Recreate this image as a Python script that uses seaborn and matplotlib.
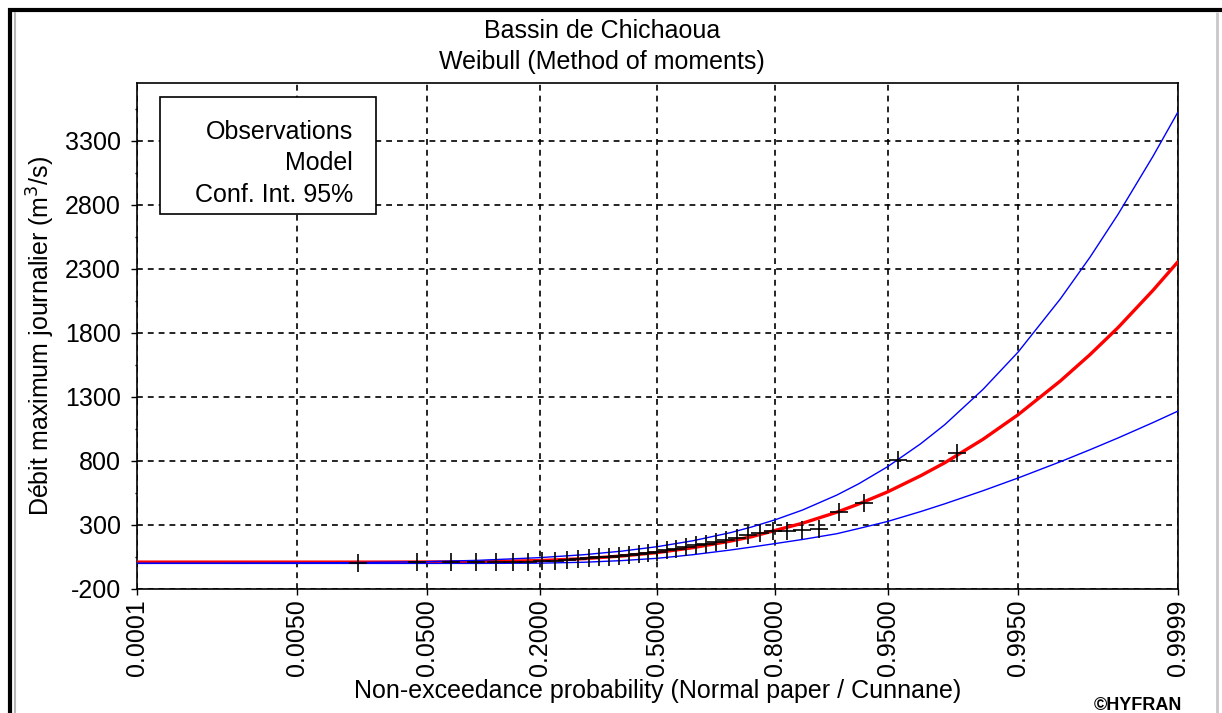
import numpy as np
import matplotlib
matplotlib.use("Agg")
import matplotlib.pyplot as plt
import seaborn as sns
from statistics import NormalDist
from matplotlib.lines import Line2D
from matplotlib.patches import Rectangle

# Fitted Weibull quantiles (model) and 95% confidence bounds, m3/s
prob_grid = [0.0001, 0.001, 0.005, 0.01, 0.02, 0.05, 0.1, 0.2, 0.3, 0.4, 0.5,
             0.6, 0.7, 0.75, 0.8, 0.85, 0.9, 0.925, 0.95, 0.97, 0.98, 0.99,
             0.995, 0.998, 0.999, 0.9995, 0.9998, 0.9999]
model_q = [10, 10, 10, 10, 10, 11, 13, 22, 37, 58, 85,
           123, 175, 209, 258, 314, 400, 465, 559, 685, 787, 970,
           1161, 1425, 1631, 1842, 2133, 2357]
upper_q = [0.5, 1.4, 3.3, 5, 7.7, 14, 24, 45, 68, 96, 131,
           177, 241, 285, 341, 417, 534, 623, 756, 935, 1085, 1360,
           1650, 2066, 2392, 2727, 3180, 3527]
lower_q = [0, 0, 0, 0, 0, 0, 0, 2, 9, 22, 40,
           68, 105, 128, 155, 187, 232, 273, 328, 405, 466, 568,
           667, 794, 888, 980, 1100, 1190]

# Observed annual maxima (sorted) with Cunnane plotting positions
obs_prob = [0.0161, 0.0430, 0.0699, 0.0968, 0.1237, 0.1505, 0.1774, 0.2043,
            0.2312, 0.2581, 0.2849, 0.3118, 0.3387, 0.3656, 0.3925, 0.4194,
            0.4462, 0.4731, 0.5000, 0.5269, 0.5538, 0.5806, 0.6075, 0.6344,
            0.6613, 0.6882, 0.7151, 0.7419, 0.7688, 0.7957, 0.8226, 0.8495,
            0.8763, 0.9032, 0.9301, 0.9570, 0.9839]
obs_q = [5, 8, 10, 12, 13, 13, 14, 16, 20, 28, 36, 45, 50, 53, 58, 64,
         72, 82, 90, 102, 115, 128, 142, 155, 165, 180, 198, 220, 240,
         250, 256, 262, 268, 404, 472, 805, 860]

x_ticks = [0.0001, 0.005, 0.05, 0.2, 0.5, 0.8, 0.95, 0.995, 0.9999]
x_tick_labels = ["0.0001", "0.0050", "0.0500", "0.2000", "0.5000",
                 "0.8000", "0.9500", "0.9950", "0.9999"]
y_ticks = [-200, 300, 800, 1300, 1800, 2300, 2800, 3300]

sns.set_theme(style="white")
plt.rcParams["font.family"] = ["Liberation Sans", "DejaVu Sans"]

W, H = 1222, 713
fig = plt.figure(figsize=(W / 100, H / 100), dpi=100)
ax = fig.add_axes([137 / W, 1 - 589 / H, (1178 - 137) / W, (589 - 83) / H])

_nd = NormalDist()
_ppf = np.vectorize(_nd.inv_cdf, otypes=[float])
_cdf = np.vectorize(_nd.cdf, otypes=[float])


def _to_z(p):
    p = np.clip(np.asarray(p, dtype=float), 1e-9, 1 - 1e-9)
    return _ppf(p)


def _to_p(z):
    return _cdf(np.asarray(z, dtype=float))


# Normal probability paper
ax.set_xscale("function", functions=(_to_z, _to_p))

sns.lineplot(x=prob_grid, y=model_q, color="#ff0000", linewidth=2.4, ax=ax, zorder=3)
sns.lineplot(x=prob_grid, y=upper_q, color="#0000ff", linewidth=1.0, ax=ax, zorder=3)
sns.lineplot(x=prob_grid, y=lower_q, color="#0000ff", linewidth=1.0, ax=ax, zorder=3)
sns.scatterplot(x=obs_prob, y=obs_q, marker="+", s=160, color="black",
                linewidth=1.2, ax=ax, zorder=4)

ax.set_xlim(0.0001, 0.9999)
ax.set_ylim(-200, 3753)
ax.set_xticks(x_ticks)
ax.set_xticklabels(x_tick_labels, rotation=90)
ax.minorticks_off()
ax.set_yticks(y_ticks)
ax.set_yticklabels([str(v) for v in y_ticks])
ax.set_yticks(np.arange(50, 3600, 500), minor=True)
ax.tick_params(axis="both", which="major", direction="out", length=4.5, width=1.0,
               color="black", labelsize=18, labelcolor="black")
ax.tick_params(axis="y", which="major", pad=7)
ax.tick_params(axis="x", which="major", pad=3)
ax.tick_params(axis="y", which="minor", direction="out", length=1.5, width=1.0,
               color="black", left=True)
ax.tick_params(axis="x", which="major", bottom=True)
ax.tick_params(axis="y", which="major", left=True)

ax.grid(True, which="major", color="black", linestyle=(0, (3.5, 3.0)), linewidth=1.2)
ax.set_axisbelow(True)
for s in ax.spines.values():
    s.set_color("black")
    s.set_linewidth(1.2)

ax.set_xlabel("Non-exceedance probability (Normal paper / Cunnane)", fontsize=18,
              color="black", labelpad=2)
ax.set_ylabel("Débit maximum journalier (m$^3$/s)", fontsize=18, color="black",
              labelpad=6)

# Legend box (labels only)
ax.add_patch(Rectangle((0.0221, 0.7411), 0.2075, 0.2312, transform=ax.transAxes,
                       facecolor="white", edgecolor="black", linewidth=1.2, zorder=5))
for yy, lab in zip([0.9031, 0.8418, 0.7786], ["Observations", "Model", "Conf. Int. 95%"]):
    ax.text(0.2075, yy, lab, transform=ax.transAxes, ha="right", va="center",
            fontsize=18, color="black", zorder=6)

fig.text(602 / W, 1 - 31 / H, "Bassin de Chichaoua", ha="center", va="center",
         fontsize=18, color="black")
fig.text(602 / W, 1 - 62 / H, "Weibull (Method of moments)", ha="center", va="center",
         fontsize=18, color="black")
fig.text(1138 / W, 1 - 705 / H, "©HYFRAN", ha="center", va="center",
         fontsize=13, fontweight="bold", color="black")


# Window frame
def px_line(x0, y0, x1, y1, color, lw):
    fig.add_artist(Line2D([x0 / W, x1 / W], [1 - y0 / H, 1 - y1 / H],
                          transform=fig.transFigure, color=color, linewidth=lw,
                          solid_capstyle="butt"))


px_line(8, 10, W, 10, "black", 3.0)
px_line(10, 8, 10, H, "black", 3.0)
px_line(14.5, 12, 14.5, H, "#b8b8b8", 1.5)
px_line(1217, 12, 1217, H, "#c8c8c8", 2.0)

fig.savefig("out.png", dpi=100)
